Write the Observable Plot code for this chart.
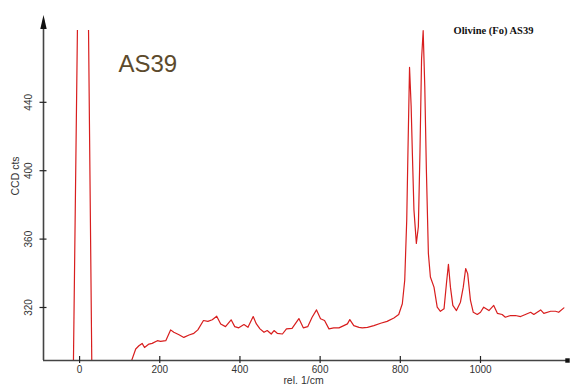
<!DOCTYPE html>
<html><head><meta charset="utf-8">
<script src="https://cdn.jsdelivr.net/npm/d3@7"></script>
<script src="https://cdn.jsdelivr.net/npm/@observablehq/plot@0.6"></script>
<style>body{margin:0;background:#fff}</style>
</head><body><div id="chart"></div>
<script>
const wavenumber = [-16, -5, 8, 22, 31, 60, 100,
  129, 140, 148, 156, 162, 173, 181, 194, 202, 215,
  227, 235, 248, 260, 273, 285, 295, 309, 320, 331,
  342, 352, 364, 378, 387, 397, 410, 420, 433, 441,
  450, 460, 468, 478, 485, 493, 506, 516, 530, 547,
  558, 569, 580, 591, 601, 611, 622, 634, 647, 659,
  668, 674, 684, 697, 705, 718, 734, 751, 767, 784,
  796, 805, 811, 816, 819, 823, 827, 830, 834, 840,
  845, 849, 853, 857, 861, 865, 870, 875, 884, 892,
  900, 909, 915, 920, 925, 931, 940, 950, 957, 963,
  968, 975, 982, 992, 1000, 1008, 1021, 1033, 1042, 1054,
  1062, 1075, 1087, 1100, 1112, 1125, 1133, 1150, 1158, 1175,
  1187, 1195, 1208];
const counts = [275, 490, 1500, 490, 275, 230, 240,
  288.4, 295.7, 297.6, 299.0, 296.6, 298.6, 299.0, 300.6, 300.2, 300.6,
  306.9, 305.5, 304.1, 302.5, 303.9, 304.9, 306.9, 312.4, 311.9, 312.8,
  314.9, 310.4, 308.8, 312.8, 308.8, 308.1, 310.0, 308.4, 314.7, 310.4,
  307.5, 305.5, 306.5, 304.5, 306.5, 304.9, 304.5, 307.5, 307.8, 313.5,
  308.1, 308.8, 314.3, 318.6, 313.4, 312.4, 307.5, 308.1, 308.1, 309.4,
  310.4, 312.9, 309.4, 308.4, 308.1, 308.4, 309.4, 310.8, 311.9, 313.9,
  315.9, 322.2, 335.9, 371.2, 410.6, 460.4, 437.8, 410.6, 377.1, 357.5,
  367.2, 410.6, 465.3, 481.9, 449.6, 400.6, 351.6, 337.8, 331.9, 320.2,
  317.8, 319.2, 333.9, 345.3, 331.9, 321.2, 318.2, 323.1, 331.9, 342.8,
  339.8, 324.1, 317.2, 315.9, 317.2, 320.2, 318.2, 321.2, 316.6, 315.9,
  314.3, 315.3, 315.3, 314.7, 315.9, 317.2, 315.9, 318.6, 316.6, 317.8,
  317.8, 317.2, 319.8];
const xTicks = [0, 200, 400, 600, 800, 1000];
const yTicks = [320, 360, 400, 440];
const xDomain = [-90, 1217];
const yDomain = [289, 482];
const yAxisTip = 491;

const data = wavenumber.map((w, i) => ({w, c: counts[i]}));
const axisColor = "#444";
const arrowHead = {draw(ctx) { ctx.moveTo(0, 0); ctx.lineTo(3.2, 14); ctx.lineTo(-3.2, 14); ctx.closePath(); }};

const chart = Plot.plot({
  width: 570, height: 385,
  marginLeft: 43, marginRight: 3, marginTop: 30, marginBottom: 25,
  style: {fontFamily: "'Liberation Sans', Arial, sans-serif", fontSize: "10px", background: "#fff"},
  x: {domain: xDomain, axis: null},
  y: {domain: yDomain, axis: null},
  marks: [
    Plot.line(data, {x: "w", y: "c", stroke: "#d81e1e", strokeWidth: 1.2, clip: true}),
    Plot.ruleY([yDomain[0]], {x1: xDomain[0], x2: xDomain[1], stroke: axisColor, strokeWidth: 1.6}),
    Plot.ruleX([xDomain[0]], {y1: yDomain[0], y2: yAxisTip - 3, stroke: axisColor, strokeWidth: 1.6}),
    Plot.dot([yAxisTip], {x: () => xDomain[0], y: d => d, symbol: arrowHead, fill: "#111", stroke: "none"}),
    Plot.dot([xDomain[1]], {x: d => d, y: () => yDomain[0], symbol: "square", r: 2.5, fill: "#111", stroke: "none"}),
    Plot.ruleX(xTicks, {x: d => d, y1: yDomain[0], y2: yDomain[0], insetTop: -4, insetBottom: -3, stroke: "#222", strokeWidth: 1.2}),
    Plot.ruleY(yTicks, {y: d => d, x1: xDomain[0], x2: xDomain[0], insetLeft: -3.5, insetRight: -3.5, stroke: "#222", strokeWidth: 1.2}),
    Plot.text(xTicks, {x: d => d, y: () => yDomain[0], text: d => String(d), lineAnchor: "bottom", dy: 12.5, fill: "#333", fontSize: 10}),
    Plot.text(yTicks, {x: () => xDomain[0], y: d => d, text: d => String(d), rotate: -90, dx: -14.5, fill: "#333", fontSize: 10}),
    Plot.text(["rel. 1/cm"], {frameAnchor: "bottom", dx: -2, dy: 23.5, lineAnchor: "bottom", fill: "#333", fontSize: 10.5}),
    Plot.text(["CCD cts"], {frameAnchor: "left", dx: -28, rotate: -90, fill: "#333", fontSize: 10.5}),
    Plot.text(["AS39"], {frameAnchor: "top-left", dx: 75, dy: 41, textAnchor: "start", lineAnchor: "bottom", fill: "#5c4a2c", fontSize: 24}),
    Plot.text(["Olivine (Fo) AS39"], {frameAnchor: "top-left", dx: 410, dy: 3.5, textAnchor: "start", lineAnchor: "bottom", fill: "#111", fontSize: 10.5, fontWeight: "bold", fontFamily: "'Liberation Serif', 'Times New Roman', serif"})
  ]
});
document.getElementById("chart").appendChild(chart);
</script>
</body></html>
